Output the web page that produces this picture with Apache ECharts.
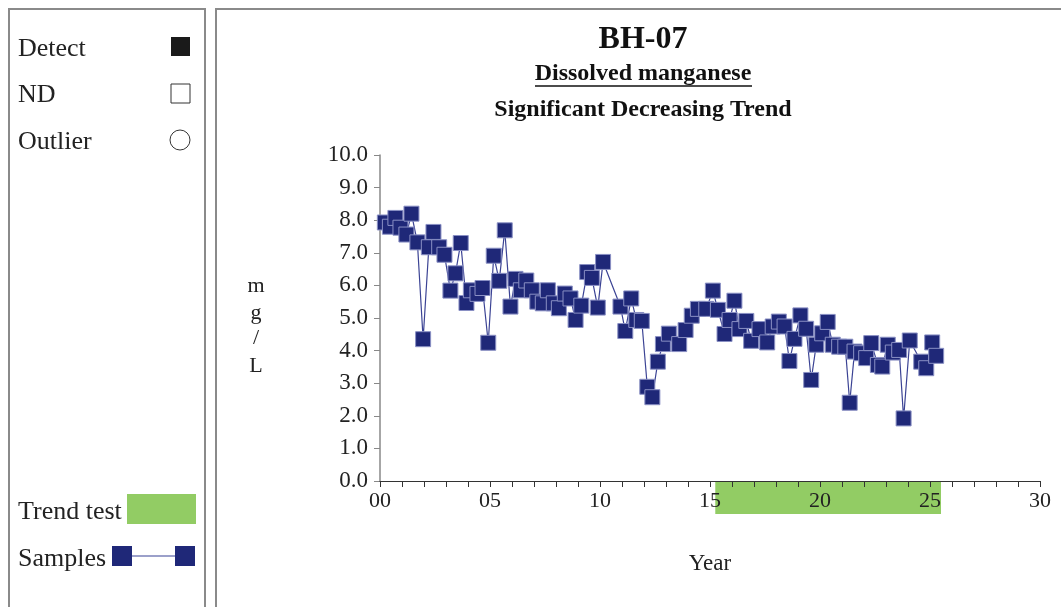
<!DOCTYPE html>
<html><head><meta charset="utf-8">
<script src="https://cdn.jsdelivr.net/npm/echarts@6/dist/echarts.min.js"></script>
<style>html,body{margin:0;padding:0;background:#fff}#c{width:1061px;height:607px}</style>
</head><body><div id="c"></div>
<script>
var years = [0.22,0.45,0.70,0.93,1.20,1.43,1.70,1.96,2.22,2.43,2.69,2.93,3.20,3.43,3.67,3.93,4.13,4.43,4.66,4.92,
  5.17,5.42,5.67,5.93,6.16,6.40,6.65,6.90,7.15,7.40,7.63,7.90,8.13,8.40,8.66,8.89,9.15,9.42,9.63,9.90,
  10.14,10.93,11.15,11.42,11.65,11.90,12.15,12.38,12.63,12.86,13.13,13.60,13.89,14.17,14.45,14.83,15.13,15.36,15.66,15.89,
  16.11,16.34,16.65,16.87,17.25,17.60,17.85,18.13,18.39,18.61,18.84,19.11,19.37,19.60,19.83,20.10,20.35,20.58,20.87,21.15,
  21.35,21.57,21.87,22.10,22.33,22.63,22.83,23.08,23.31,23.60,23.80,24.08,24.60,24.83,25.10,25.28];
var values = [7.93,7.80,8.07,7.77,7.56,8.20,7.32,4.35,7.17,7.64,7.17,6.94,5.84,6.37,7.30,5.46,5.85,5.74,5.92,4.24,
  6.91,6.14,7.69,5.35,6.20,5.85,6.15,5.85,5.50,5.45,5.85,5.45,5.30,5.75,5.60,4.94,5.38,6.41,6.23,5.32,
  6.72,5.35,4.60,5.60,4.94,4.91,2.89,2.57,3.66,4.20,4.52,4.20,4.63,5.07,5.28,5.28,5.84,5.25,4.51,4.94,
  5.53,4.66,4.91,4.30,4.66,4.25,4.74,4.89,4.74,3.68,4.36,5.08,4.67,3.10,4.18,4.53,4.88,4.18,4.12,4.12,
  2.40,3.97,3.92,3.77,4.23,3.56,3.51,4.18,3.94,4.02,1.92,4.31,3.66,3.46,4.25,3.84];
var trendRange = [15.24, 25.5];
var xTickLabels = ['00','05','10','15','20','25','30'];
var yMin = 0, yMax = 10, yStep = 1;

var serif = '"Liberation Serif","DejaVu Serif",serif';
var navy = '#1F2878';
var pts = years.map(function(y,i){return [y, values[i]];});

var chart = echarts.init(document.getElementById('c'));
var lf = '26px '+serif;
var g = [
  {type:'rect', shape:{x:9,y:9,width:196,height:640}, style:{fill:'none',stroke:'#8a8a8a',lineWidth:2}},
  {type:'rect', shape:{x:216,y:9,width:900,height:640}, style:{fill:'none',stroke:'#8a8a8a',lineWidth:2}},
  {type:'text', x:18, y:49, style:{text:'Detect', font:lf, fill:'#222', textVerticalAlign:'middle'}},
  {type:'rect', shape:{x:171,y:37,width:19,height:19}, style:{fill:'#1a1a1a'}},
  {type:'text', x:18, y:95, style:{text:'ND', font:lf, fill:'#222', textVerticalAlign:'middle'}},
  {type:'rect', shape:{x:171,y:84,width:19,height:19}, style:{fill:'#fff',stroke:'#333',lineWidth:1}},
  {type:'text', x:18, y:142, style:{text:'Outlier', font:lf, fill:'#222', textVerticalAlign:'middle'}},
  {type:'circle', shape:{cx:180,cy:140,r:10}, style:{fill:'#fff',stroke:'#333',lineWidth:1}},
  {type:'text', x:18, y:512, style:{text:'Trend test', font:lf, fill:'#222', textVerticalAlign:'middle'}},
  {type:'rect', shape:{x:127,y:494,width:69,height:30}, style:{fill:'#92CC64'}},
  {type:'text', x:18, y:559, style:{text:'Samples', font:lf, fill:'#222', textVerticalAlign:'middle'}},
  {type:'line', shape:{x1:122,y1:556,x2:185,y2:556}, style:{stroke:'#7a80b8',lineWidth:1.5}},
  {type:'rect', shape:{x:112,y:546,width:20,height:20}, style:{fill:navy}},
  {type:'rect', shape:{x:175,y:546,width:20,height:20}, style:{fill:navy}},
  {type:'text', x:643, y:40, style:{text:'BH-07', font:'bold 32px '+serif, fill:'#111', textAlign:'center', textVerticalAlign:'middle'}},
  {type:'text', x:643, y:74, style:{text:'Dissolved manganese', font:'bold 24px '+serif, fill:'#111', textAlign:'center', textVerticalAlign:'middle'}},
  {type:'line', shape:{x1:535,y1:86,x2:752,y2:86}, style:{stroke:'#111',lineWidth:1.5}},
  {type:'text', x:643, y:110, style:{text:'Significant Decreasing Trend', font:'bold 24px '+serif, fill:'#111', textAlign:'center', textVerticalAlign:'middle'}},
  {type:'text', x:256, y:286, style:{text:'m', font:'22px '+serif, fill:'#222', textAlign:'center', textVerticalAlign:'middle'}},
  {type:'text', x:256, y:313, style:{text:'g', font:'22px '+serif, fill:'#222', textAlign:'center', textVerticalAlign:'middle'}},
  {type:'text', x:256, y:338, style:{text:'/', font:'22px '+serif, fill:'#222', textAlign:'center', textVerticalAlign:'middle'}},
  {type:'text', x:256, y:366, style:{text:'L', font:'22px '+serif, fill:'#222', textAlign:'center', textVerticalAlign:'middle'}},
  {type:'text', x:710, y:564, style:{text:'Year', font:'23px '+serif, fill:'#222', textAlign:'center', textVerticalAlign:'middle'}}
];

chart.setOption({
  animation:false,
  graphic:g,
  grid:[{left:380,top:155,width:660,height:326},{left:380,top:482,width:660,height:32}],
  xAxis:[{
    gridIndex:0, type:'value', min:0, max:30, interval:1, z:5,
    axisLine:{lineStyle:{color:'#333',width:1.2}},
    axisTick:{show:true,length:6,inside:false,lineStyle:{color:'#333'}},
    axisLabel:{margin:9, color:'#222', fontFamily:serif, fontSize:22,
      formatter:function(v){return v%5===0 ? xTickLabels[v/5] : '';}, showMinLabel:true, showMaxLabel:true},
    splitLine:{show:false}
  },{
    gridIndex:1, type:'value', min:0, max:30, show:false
  }],
  yAxis:[{
    gridIndex:0, type:'value', min:yMin, max:yMax, interval:yStep,
    axisLine:{show:true,lineStyle:{color:'#888',width:1.5}},
    axisTick:{show:true,length:6,lineStyle:{color:'#888'}},
    axisLabel:{margin:12,color:'#222',fontFamily:serif,fontSize:23,padding:[3,0,0,0],formatter:function(v){return v.toFixed(1);}},
    splitLine:{show:false}
  },{
    gridIndex:1, type:'value', min:0, max:1, show:false
  }],
  series:[{
    type:'line', xAxisIndex:1, yAxisIndex:1, data:[], z:1, silent:true,
    markArea:{silent:true, itemStyle:{color:'#92CC64',opacity:1},
      data:[[{xAxis:trendRange[0],yAxis:0},{xAxis:trendRange[1],yAxis:1}]]}
  },{
    type:'line', xAxisIndex:0, yAxisIndex:0, data:pts, z:3,
    symbol:'rect', symbolSize:15,
    lineStyle:{color:'#3b4394',width:1.2},
    itemStyle:{color:navy,borderColor:'#8a90c4',borderWidth:1}
  }]
});
</script></body></html>
